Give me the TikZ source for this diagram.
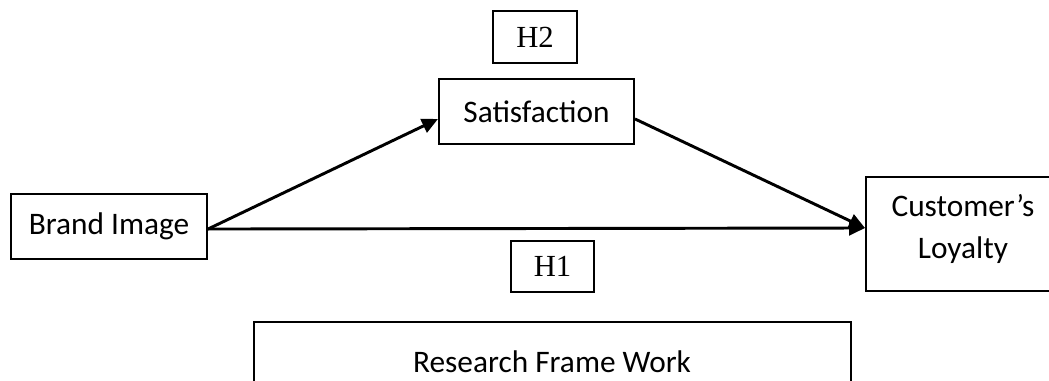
\documentclass[tikz,border=0pt]{standalone}
\usepackage{fontspec}
\setmainfont{Carlito}
\newfontfamily\hyfont{Liberation Serif}
\usetikzlibrary{arrows.meta}
\begin{document}
\begin{tikzpicture}[x=0.75pt,y=-0.75pt,
  box/.style={draw,line width=1.5pt,inner sep=0pt,font=\fontsize{23.5}{30}\selectfont},
  hbox/.style={draw,line width=1.5pt,inner sep=0pt,font=\hyfont\fontsize{23}{28}\selectfont},
  txt/.style={inner sep=0pt,font=\fontsize{23.5}{30}\selectfont,align=center},
  link/.style={line width=2.2pt,-{Triangle[length=12pt,width=11pt]}}]
\useasboundingbox (0,0) rectangle (1049,381);
\begin{scope}
\clip (0,0) rectangle (1049,381);
% construct boxes
\node[box,minimum width=147pt,minimum height=48.75pt] (brand) at (109,226.5) {Brand Image};
\node[box,minimum width=146.25pt,minimum height=48.75pt] (sat) at (536.5,111.5) {Satisfaction};
\node[box,minimum width=145.5pt,minimum height=85.5pt] (loy) at (963,234) {};
\node[txt] (loytext) at (963,229) {Customer’s\\[2pt]Loyalty};
% hypothesis labels
\node[hbox,minimum width=63pt,minimum height=39pt] (h2) at (535,37) {H2};
\node[hbox,minimum width=62.25pt,minimum height=38.25pt] (h1) at (552.5,266.5) {H1};
% caption box, running past the lower edge
\node[box,minimum width=447.75pt,minimum height=58.5pt] (frame) at (552.5,361) {};
\node[txt] (frametext) at (552,362) {Research Frame Work};
% connectors
\draw[link] ([yshift=-1.9pt]brand.east) -- ([yshift=-5.6pt]sat.west);
\draw[link] ([yshift=-5.6pt]sat.east) -- ([yshift=4.5pt]loy.west);
\draw[link] ([yshift=-1.9pt]brand.east) -- ([yshift=4.5pt]loy.west);
\end{scope}
\end{tikzpicture}
\end{document}
